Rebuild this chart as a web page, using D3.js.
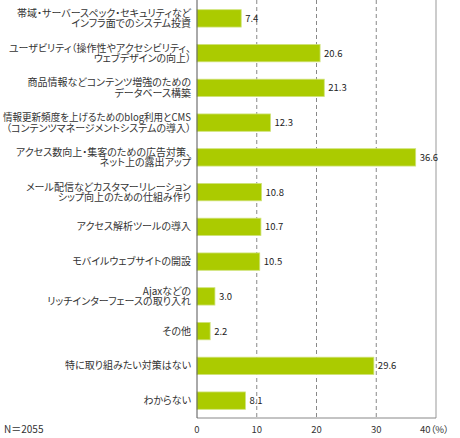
<!DOCTYPE html>
<html>
<head>
<meta charset="utf-8">
<script src="https://d3js.org/d3.v7.min.js"></script>
<style>
  body { margin: 0; background: #fff; }
  text { font-family: "Noto Sans CJK JP", "Noto Sans", sans-serif; fill: #333; font-feature-settings: "palt"; }
</style>
</head>
<body>
<div id="chart"></div>
<script>
var categories = [
  ["帯域・サーバースペック・セキュリティなど", "インフラ面でのシステム投資"],
  ["ユーザビリティ（操作性やアクセシビリティ、", "ウェブデザインの向上）"],
  ["商品情報などコンテンツ増強のための", "データベース構築"],
  ["情報更新頻度を上げるためのblog利用とCMS", "（コンテンツマネージメントシステムの導入）"],
  ["アクセス数向上・集客のための広告対策、", "ネット上の露出アップ"],
  ["メール配信などカスタマーリレーション", "シップ向上のための仕組み作り"],
  ["アクセス解析ツールの導入"],
  ["モバイルウェブサイトの開設"],
  ["Ajaxなどの", "リッチインターフェースの取り入れ"],
  ["その他"],
  ["特に取り組みたい対策はない"],
  ["わからない"]
];
var values = [7.4, 20.6, 21.3, 12.3, 36.6, 10.8, 10.7, 10.5, 3.0, 2.2, 29.6, 8.1];
var ticks = [0, 10, 20, 30, 40];
var note = "N＝2055";

var w = 460, h = 438,
    plotL = 197, plotR = 436, plotT = 1, plotB = 418;

var svg = d3.select("#chart").append("svg")
    .attr("width", w)
    .attr("height", h);

var x = d3.scaleLinear().domain([0, 40]).range([plotL, plotR]);
var y = d3.scaleBand().domain(d3.range(values.length))
    .range([plotT, plotB]).paddingInner(0.5).paddingOuter(0.25);

// dashed grid
svg.selectAll("line.grid")
    .data(ticks.slice(1, -1))
    .enter().append("line")
    .attr("class", "grid")
    .attr("x1", x).attr("x2", x)
    .attr("y1", 0).attr("y2", plotB)
    .attr("stroke", "#888")
    .attr("stroke-dasharray", "4,3");

// frame
svg.append("line")
    .attr("x1", x(40)).attr("x2", x(40))
    .attr("y1", 0).attr("y2", plotB)
    .attr("stroke", "#999");
svg.append("line")
    .attr("x1", plotL).attr("x2", x(40))
    .attr("y1", plotB).attr("y2", plotB)
    .attr("stroke", "#888");

// bars
svg.selectAll("rect.bar")
    .data(values)
    .enter().append("rect")
    .attr("class", "bar")
    .attr("x", plotL)
    .attr("y", function(d, i) { return y(i); })
    .attr("width", function(d) { return x(d) - plotL; })
    .attr("height", y.bandwidth())
    .attr("fill", "#abcb00")
    .attr("stroke", "#cfe37a")
    .attr("stroke-width", 0.8);

svg.append("line")
    .attr("x1", plotL).attr("x2", plotL)
    .attr("y1", 0).attr("y2", plotB)
    .attr("stroke", "#555");

// value labels
svg.selectAll("text.val")
    .data(values)
    .enter().append("text")
    .attr("class", "val")
    .attr("x", function(d) { return x(d) + 4; })
    .attr("y", function(d, i) { return y(i) + y.bandwidth() / 2 + 3.5; })
    .attr("font-size", 9.5)
    .style("fill", "#222")
    .text(function(d) { return d.toFixed(1); });

// category labels
var cat = svg.selectAll("text.cat")
    .data(categories)
    .enter().append("text")
    .attr("class", "cat")
    .attr("text-anchor", "end")
    .attr("font-size", 10)
    .attr("y", function(d, i) { return y(i) + y.bandwidth() / 2; });

cat.selectAll("tspan")
    .data(function(d) { return d.map(function(s, j) { return { s: s, j: j, n: d.length }; }); })
    .enter().append("tspan")
    .attr("x", 191)
    .attr("dy", function(t) {
      if (t.n === 1) return 3.5;
      return t.j === 0 ? -1.5 : 10.5;
    })
    .text(function(t) { return t.s; });

// keep the widest lines inside the left edge
cat.selectAll("tspan").each(function() {
  var len = this.getComputedTextLength();
  if (len > 188) {
    d3.select(this).attr("textLength", 188).attr("lengthAdjust", "spacingAndGlyphs");
  }
});

// x tick labels
svg.selectAll("text.tick")
    .data(ticks)
    .enter().append("text")
    .attr("class", "tick")
    .attr("x", function(d) { return d === 40 ? x(d) - 16 : x(d); })
    .attr("y", 433)
    .attr("font-size", 9.5)
    .attr("text-anchor", function(d) { return d === 40 ? "start" : "middle"; })
    .text(function(d) { return d === 40 ? d + "（%）" : d; });

svg.append("text")
    .attr("x", 4)
    .attr("y", 433)
    .attr("font-size", 10)
    .text(note);
</script>
</body>
</html>
